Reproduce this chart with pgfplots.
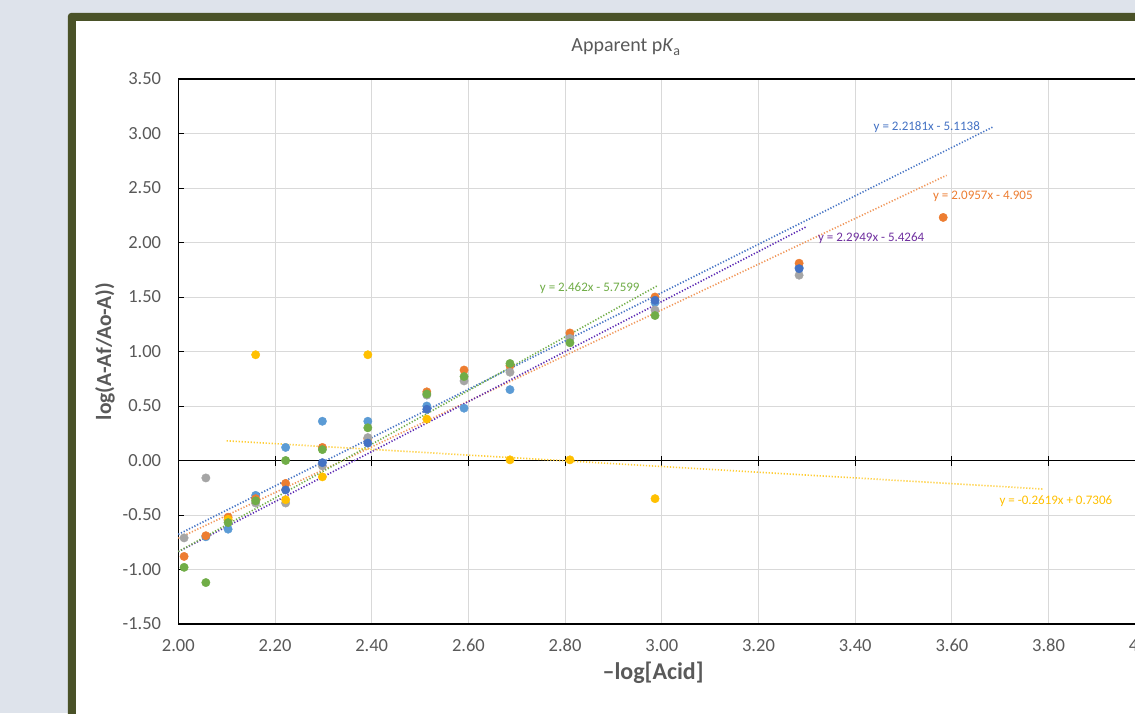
\documentclass[border=0pt]{standalone}
\usepackage{pgfplots}
\pgfplotsset{compat=1.18}
\usepackage{fontspec}
\setmainfont{Carlito}
\definecolor{bg}{HTML}{DEE3EB}
\definecolor{framec}{HTML}{4A5228}
\definecolor{txt}{HTML}{595959}
\definecolor{sblue}{HTML}{5B9BD5}
\definecolor{sorange}{HTML}{ED7D31}
\definecolor{sgray}{HTML}{A5A5A5}
\definecolor{syellow}{HTML}{FFC000}
\definecolor{sdblue}{HTML}{4472C4}
\definecolor{sgreen}{HTML}{70AD47}
\definecolor{spurple}{HTML}{7030A0}
\definecolor{gridc}{HTML}{D9D9D9}
\begin{document}
\begin{tikzpicture}
\path[use as bounding box] (-178.3pt,-89pt) rectangle (956.7pt,624pt);
\clip (-178.3pt,-89pt) rectangle (956.7pt,624pt);
\fill[bg] (-178.3pt,-89pt) rectangle (956.7pt,624pt);
\fill[framec, rounded corners=3pt] (-110.3pt,611pt) rectangle (1000pt,-120pt);
\fill[white] (-102.3pt,603pt) rectangle (1000pt,-120pt);
\begin{axis}[
  anchor=origin, at={(0pt,163.5pt)}, scale only axis,
  width=967pt, height=545pt,
  xmin=2, xmax=4, ymin=-1.5, ymax=3.5,
  xtick={2,2.2,2.4,2.6,2.8,3,3.2,3.4,3.6,3.8,4},
  ytick={-1.5,-1,-0.5,0,0.5,1,1.5,2,2.5,3,3.5},
  grid=major, grid style={gridc, line width=0.9pt},
  axis line style={black, line width=1.3pt},
  xtick style={draw=none},
  ytick style={black, line width=1pt},
  tick align=inside, major tick length=6pt, ytick pos=left,
  ticklabel style={font=\fontsize{18.5}{22}\selectfont, text=txt},
  yticklabel style={inner sep=0pt, xshift=-17pt, anchor=east},
  xticklabel style={inner sep=0pt, yshift=-15pt, anchor=north},
  /pgf/number format/.cd, fixed, fixed zerofill, precision=2, assume math mode=true,
  /pgfplots/.cd,
  title={Apparent p\textit{K}\textsubscript{a}},
  title style={at={(axis description cs:0.463,1)}, anchor=base, yshift=21pt, font=\fontsize{20}{24}\selectfont, text=txt},
  xlabel={\textbf{–log[Acid]}},
  xlabel style={at={(axis description cs:0.491,-0.0899)}, anchor=center, font=\fontsize{24}{28}\selectfont, text=txt},
  ylabel={\textbf{log(A-Af/Ao-A))}},
  ylabel style={at={(axis description cs:-0.0758,0.5)}, anchor=center, font=\fontsize{21.5}{25}\selectfont, text=txt},
  clip=false,
]
\draw[black, line width=1.3pt] (axis cs:2,0) -- (axis cs:4,0);
\pgfplotsinvokeforeach{2.2,2.4,2.6,2.8,3.0,3.2,3.4,3.6,3.8}{
  \draw[black, line width=1pt] ([yshift=-5pt]axis cs:#1,0) -- ([yshift=5pt]axis cs:#1,0);
}
% data series
\addplot[only marks, mark=*, mark size=4.2pt, color=sblue, mark options={draw=none}] coordinates {
 (2.057,-0.70) (2.103,-0.63) (2.160,-0.32) (2.222,0.12) (2.298,0.36) (2.392,0.36)
 (2.514,0.50) (2.591,0.48) (2.686,0.65) (2.810,1.14) (2.986,1.45) (3.284,1.77)};
\addplot[only marks, mark=*, mark size=4.2pt, color=sorange, mark options={draw=none}] coordinates {
 (2.012,-0.88) (2.057,-0.69) (2.103,-0.52) (2.160,-0.35) (2.222,-0.21) (2.298,0.12)
 (2.392,0.20) (2.514,0.63) (2.591,0.83) (2.686,0.87) (2.810,1.17) (2.986,1.50)
 (3.284,1.81) (3.582,2.23)};
\addplot[only marks, mark=*, mark size=4.2pt, color=sgray, mark options={draw=none}] coordinates {
 (2.012,-0.71) (2.057,-0.16) (2.103,-0.55) (2.160,-0.39) (2.222,-0.39) (2.298,-0.05)
 (2.392,0.21) (2.514,0.60) (2.591,0.73) (2.686,0.81) (2.810,1.12) (2.986,1.38)
 (3.284,1.70)};
\addplot[only marks, mark=*, mark size=4.2pt, color=syellow, mark options={draw=none}] coordinates {
 (2.103,-0.54) (2.160,0.97) (2.222,-0.36) (2.298,-0.15) (2.392,0.97) (2.514,0.38)
 (2.686,0.006) (2.810,0.006) (2.986,-0.35)};
\addplot[only marks, mark=*, mark size=4.2pt, color=sdblue, mark options={draw=none}] coordinates {
 (2.222,-0.27) (2.298,-0.02) (2.392,0.16) (2.514,0.47) (2.986,1.47) (3.284,1.76)};
\addplot[only marks, mark=*, mark size=4.2pt, color=sgreen, mark options={draw=none}] coordinates {
 (2.012,-0.98) (2.057,-1.12) (2.103,-0.57) (2.160,-0.37) (2.222,0.00) (2.298,0.10)
 (2.392,0.30) (2.514,0.61) (2.591,0.77) (2.686,0.89) (2.810,1.08) (2.986,1.33)};
% trendlines (endpoints of the fitted lines)
\addplot[sdblue, line width=1.6pt, dash pattern=on 1.2pt off 1.8pt] coordinates {(2.0,-0.6776) (3.685,3.0599)};
\addplot[sorange!80, line width=1.6pt, dash pattern=on 1.2pt off 1.8pt] coordinates {(2.0,-0.7136) (3.589,2.6165)};
\addplot[spurple!80!blue, line width=1.6pt, dash pattern=on 1.2pt off 1.8pt] coordinates {(2.0,-0.8366) (3.30,2.1468)};
\addplot[sgreen, line width=1.6pt, dash pattern=on 1.2pt off 1.8pt] coordinates {(2.0,-0.8359) (2.99,1.6015)};
\addplot[syellow!80, line width=1.6pt, dash pattern=on 1.2pt off 1.8pt] coordinates {(2.10,0.1806) (3.79,-0.2620)};
% equation labels
\node[text=sdblue, font=\fontsize{13}{15}\selectfont] at (axis cs:3.548,3.058) {y = 2.2181x - 5.1138};
\node[text=sorange, font=\fontsize{13}{15}\selectfont] at (axis cs:3.664,2.425) {y = 2.0957x - 4.905};
\node[text=spurple, font=\fontsize{13}{15}\selectfont] at (axis cs:3.433,2.039) {y = 2.2949x - 5.4264};
\node[text=sgreen, font=\fontsize{13}{15}\selectfont] at (axis cs:2.851,1.584) {y = 2.462x - 5.7599};
\node[text=syellow, font=\fontsize{13}{15}\selectfont] at (axis cs:3.815,-0.376) {y = -0.2619x + 0.7306};
\end{axis}
\end{tikzpicture}
\end{document}
